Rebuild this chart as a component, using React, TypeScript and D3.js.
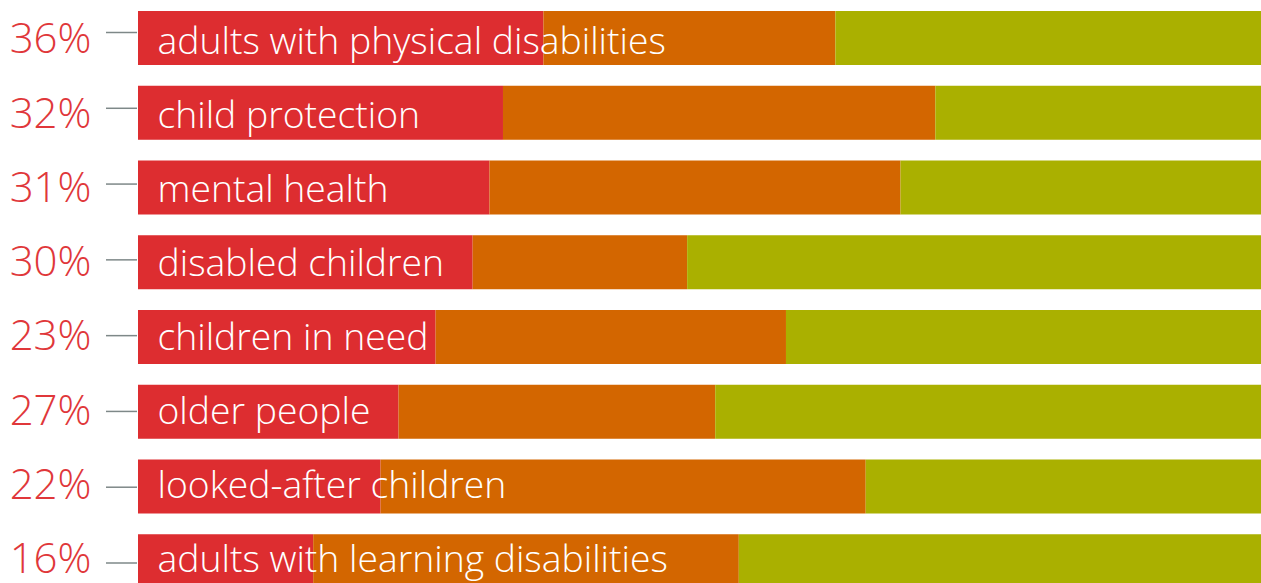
import React from "react";
import * as d3 from "d3";

const categories = [
  "adults with physical disabilities",
  "child protection",
  "mental health",
  "disabled children",
  "children in need",
  "older people",
  "looked-after children",
  "adults with learning disabilities",
];
const percentLabels = ["36%", "32%", "31%", "30%", "23%", "27%", "22%", "16%"];
const redValues = [36.1, 32.5, 31.3, 29.8, 26.5, 23.2, 21.6, 15.6];
const orangeValues = [26.0, 38.5, 36.6, 19.1, 31.2, 28.2, 43.2, 37.9];
const greenValues = redValues.map((r, i) => 100 - r - orangeValues[i]);

const COLORS = ["#DD2D30", "#D36600", "#AAB000"];
const W = 1261;
const H = 583;
const FONT = "'Open Sans', 'Noto Sans', sans-serif";

export default function App() {
  const x = d3.scaleLinear().domain([0, 100]).range([138, 1261]);
  const step = 74.75;
  const barH = 54;
  const y = d3
    .scaleBand<number>()
    .domain(d3.range(categories.length))
    .range([11, 11 + step * 7 + barH])
    .paddingInner((step - barH) / step)
    .paddingOuter(0);
  const yText = d3.scaleLinear().domain([0, 7]).range([53.5, 571.5]);
  const yPct = d3.scaleLinear().domain([0, 7]).range([53.3, 573]);
  const yLine = d3.scaleLinear().domain([0, 7]).range([32.5, 563]);

  const stack = d3
    .stack<number>()
    .keys(["r", "o", "g"])
    .value((i, key) =>
      key === "r" ? redValues[i] : key === "o" ? orangeValues[i] : greenValues[i]
    );
  const series = stack(d3.range(categories.length));

  return (
    <svg
      width={W}
      height={H}
      style={{ position: "absolute", left: 0, top: 0, background: "#fff" }}
    >
      {series.map((s, si) => (
        <g key={si} fill={COLORS[si]}>
          {s.map((d, i) => (
            <rect
              key={i}
              x={x(d[0])}
              y={y(i)}
              width={x(d[1]) - x(d[0])}
              height={y.bandwidth()}
            />
          ))}
        </g>
      ))}
      {categories.map((c, i) => (
        <g key={c}>
          <line
            x1={106}
            x2={137}
            y1={yLine(i)}
            y2={yLine(i)}
            stroke="#7E8888"
            strokeWidth={1.5}
          />
          <text
            x={91.5}
            y={yPct(i)}
            textAnchor="end"
            fill="#E0373A"
            fontFamily={FONT}
            fontWeight={300}
            fontSize={42}
          >
            {percentLabels[i]}
          </text>
          <text
            x={157.5}
            y={yText(i)}
            fill="#fff"
            fontFamily={FONT}
            fontWeight={300}
            fontSize={37.3}
          >
            {c}
          </text>
        </g>
      ))}
    </svg>
  );
}
